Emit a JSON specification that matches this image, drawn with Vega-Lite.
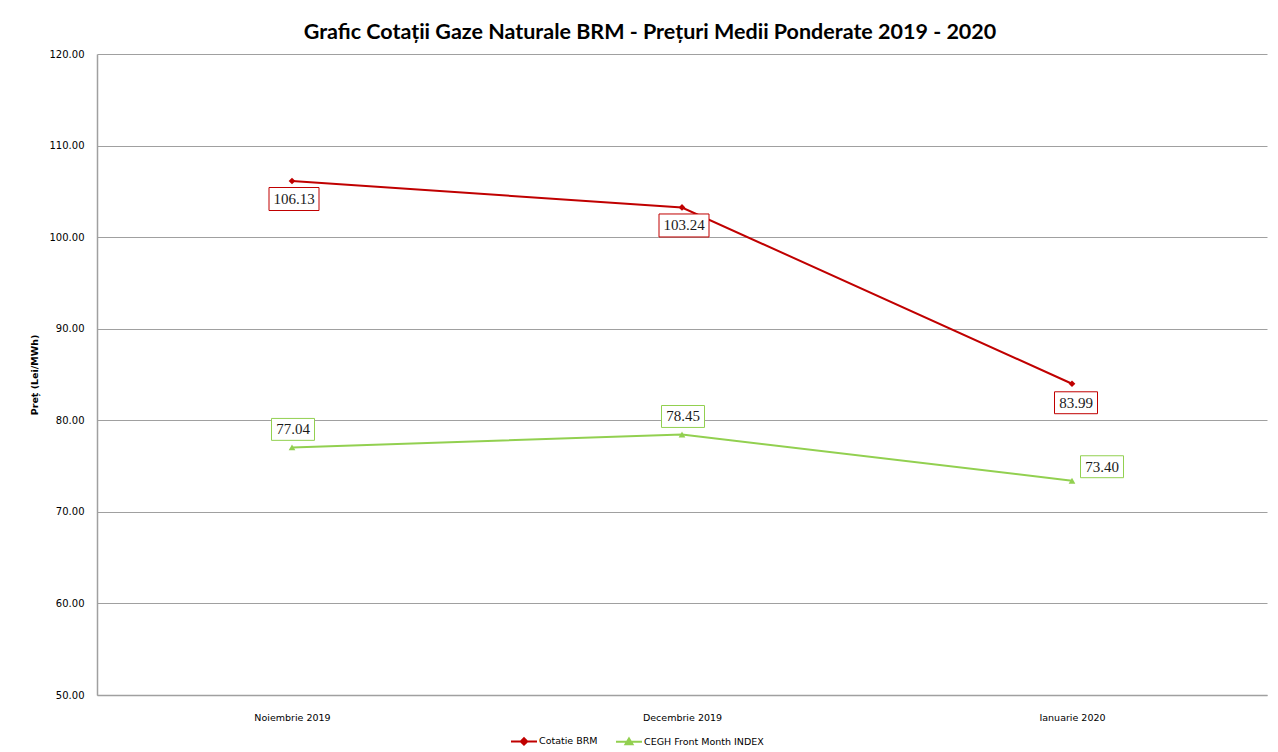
{
  "$schema": "https://vega.github.io/schema/vega-lite/v6.json",
  "autosize": {"type": "none"},
  "padding": {"left": 97, "top": 54, "right": 11, "bottom": 57},
  "width": 1170,
  "height": 641,
  "background": "white",
  "title": {
    "text": "Grafic Cotații Gaze Naturale BRM - Prețuri Medii Ponderate 2019 - 2020",
    "font": "Lato",
    "fontSize": 21.5,
    "fontWeight": "bold",
    "color": "#000000",
    "anchor": "middle",
    "offset": 6,
    "dx": -32
  },
  "config": {
    "view": {"stroke": null},
    "axis": {"labelFont": "DejaVu Sans", "titleFont": "DejaVu Sans"}
  },
  "data": {
    "values": [
      {"month": "Noiembrie 2019", "series": "Cotatie BRM", "value": 106.13},
      {"month": "Decembrie 2019", "series": "Cotatie BRM", "value": 103.24},
      {"month": "Ianuarie 2020", "series": "Cotatie BRM", "value": 83.99},
      {"month": "Noiembrie 2019", "series": "CEGH Front Month INDEX", "value": 77.04},
      {"month": "Decembrie 2019", "series": "CEGH Front Month INDEX", "value": 78.45},
      {"month": "Ianuarie 2020", "series": "CEGH Front Month INDEX", "value": 73.40}
    ]
  },
  "encoding": {
    "x": {
      "field": "month",
      "type": "nominal",
      "sort": ["Noiembrie 2019", "Decembrie 2019", "Ianuarie 2020"],
      "scale": {"type": "point", "padding": 0.5},
      "axis": {
        "title": null,
        "labelAngle": 0,
        "labelFontSize": 9.5,
        "labelColor": "#000000",
        "labelPadding": 17,
        "ticks": false,
        "domainColor": "#a0a0a0",
        "domainWidth": 1.5,
        "grid": false
      }
    },
    "y": {
      "field": "value",
      "type": "quantitative",
      "scale": {"domain": [50, 120], "nice": false, "zero": false},
      "axis": {
        "title": "Preț (Lei/MWh)",
        "titleFontSize": 9.5,
        "titleFontWeight": "bold",
        "titleColor": "#000000",
        "titlePadding": 10,
        "values": [50, 60, 70, 80, 90, 100, 110, 120],
        "format": ".2f",
        "labelFontSize": 10,
        "labelColor": "#000000",
        "labelPadding": 13,
        "ticks": false,
        "domainColor": "#a0a0a0",
        "domainWidth": 1.5,
        "grid": true,
        "gridColor": "#a0a0a0",
        "gridWidth": 1
      }
    }
  },
  "layer": [
    {
      "mark": {"type": "line", "strokeWidth": 2},
      "encoding": {
        "color": {
          "field": "series",
          "type": "nominal",
          "scale": {"domain": ["Cotatie BRM", "CEGH Front Month INDEX"], "range": ["#c00000", "#92d050"]},
          "legend": {
            "title": null,
            "orient": "none",
            "legendX": 413,
            "legendY": 673,
            "direction": "horizontal",
            "labelFont": "DejaVu Sans",
            "labelFontSize": 9.5,
            "labelColor": "#000000",
            "symbolSize": 676,
            "symbolStrokeWidth": 2,
            "labelOffset": 1,
            "columnPadding": 14,
            "encode": {
              "symbols": {
                "update": {
                  "shape": {"signal": "datum.value === 'Cotatie BRM' ? 'M-1,0H1M0,-0.25L0.25,0L0,0.25L-0.25,0Z' : 'M-1,0H1M0,-0.25L0.27,0.2L-0.27,0.2Z'"},
                  "fill": {"scale": "color", "field": "value"},
                  "stroke": {"scale": "color", "field": "value"}
                }
              }
            }
          }
        }
      }
    },
    {
      "transform": [{"filter": "datum.series === 'Cotatie BRM'"}],
      "mark": {"type": "point", "shape": "diamond", "filled": true, "opacity": 1, "size": 45, "color": "#c00000"}
    },
    {
      "transform": [{"filter": "datum.series === 'CEGH Front Month INDEX'"}],
      "mark": {"type": "point", "shape": "triangle-up", "filled": true, "opacity": 1, "size": 45, "color": "#92d050"}
    },
    {
      "transform": [{"filter": "datum.series === 'Cotatie BRM' && datum.value >= 100"}],
      "mark": {"type": "point", "shape": "M-1,-0.46H1V0.46H-1Z", "size": 2500, "filled": true, "fill": "white", "stroke": "#c00000", "strokeWidth": 1, "opacity": 1, "xOffset": 2, "yOffset": 18}
    },
    {
      "transform": [{"filter": "datum.series === 'Cotatie BRM' && datum.value < 100"}],
      "mark": {"type": "point", "shape": "M-1,-0.51H1V0.51H-1Z", "size": 1849, "filled": true, "fill": "white", "stroke": "#c00000", "strokeWidth": 1, "opacity": 1, "xOffset": 4, "yOffset": 19}
    },
    {
      "transform": [{"filter": "datum.series === 'CEGH Front Month INDEX' && datum.month !== 'Ianuarie 2020'"}],
      "mark": {"type": "point", "shape": "M-1,-0.51H1V0.51H-1Z", "size": 1849, "filled": true, "fill": "white", "stroke": "#92d050", "strokeWidth": 1, "opacity": 1, "xOffset": 1, "yOffset": -18}
    },
    {
      "transform": [{"filter": "datum.series === 'CEGH Front Month INDEX' && datum.month === 'Ianuarie 2020'"}],
      "mark": {"type": "point", "shape": "M-1,-0.51H1V0.51H-1Z", "size": 1849, "filled": true, "fill": "white", "stroke": "#92d050", "strokeWidth": 1, "opacity": 1, "xOffset": 30, "yOffset": -14}
    },
    {
      "transform": [{"filter": "datum.series === 'Cotatie BRM' && datum.value >= 100"}],
      "mark": {"type": "text", "font": "Liberation Serif", "fontSize": 15, "color": "#1a1a1a", "baseline": "middle", "dx": 2, "dy": 18},
      "encoding": {"text": {"field": "value", "type": "quantitative", "format": ".2f"}}
    },
    {
      "transform": [{"filter": "datum.series === 'Cotatie BRM' && datum.value < 100"}],
      "mark": {"type": "text", "font": "Liberation Serif", "fontSize": 15, "color": "#1a1a1a", "baseline": "middle", "dx": 4, "dy": 19},
      "encoding": {"text": {"field": "value", "type": "quantitative", "format": ".2f"}}
    },
    {
      "transform": [{"filter": "datum.series === 'CEGH Front Month INDEX' && datum.month !== 'Ianuarie 2020'"}],
      "mark": {"type": "text", "font": "Liberation Serif", "fontSize": 15, "color": "#1a1a1a", "baseline": "middle", "dx": 1, "dy": -18},
      "encoding": {"text": {"field": "value", "type": "quantitative", "format": ".2f"}}
    },
    {
      "transform": [{"filter": "datum.series === 'CEGH Front Month INDEX' && datum.month === 'Ianuarie 2020'"}],
      "mark": {"type": "text", "font": "Liberation Serif", "fontSize": 15, "color": "#1a1a1a", "baseline": "middle", "dx": 30, "dy": -14},
      "encoding": {"text": {"field": "value", "type": "quantitative", "format": ".2f"}}
    }
  ]
}
